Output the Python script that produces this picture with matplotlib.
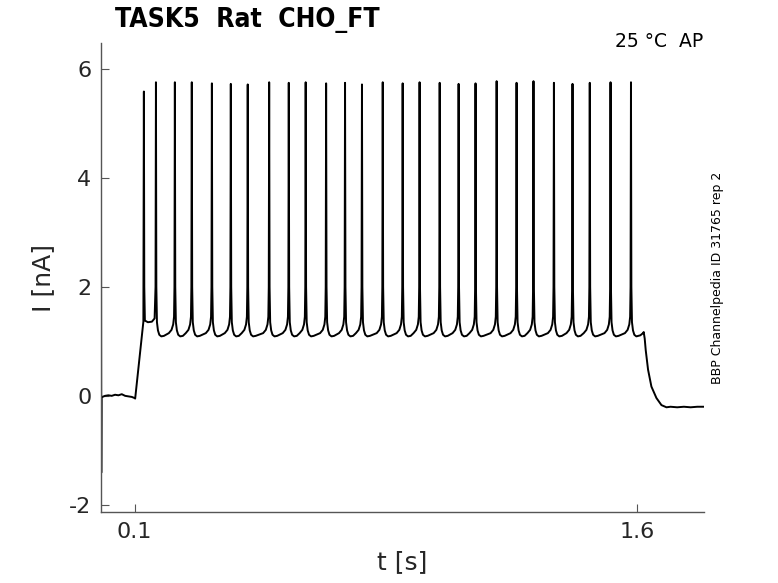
import numpy as np
import matplotlib
matplotlib.use('Agg')
import matplotlib.pyplot as plt

plt.rcParams['axes.unicode_minus'] = False

# spike times [s] and peak currents [nA]
spike_times = [0.128, 0.164, 0.2205, 0.271, 0.331, 0.3875, 0.438, 0.502, 0.5605,
               0.611, 0.672, 0.7285, 0.779, 0.841, 0.9005, 0.951, 1.011, 1.0675,
               1.118, 1.181, 1.2405, 1.291, 1.352, 1.4075, 1.459, 1.521, 1.582]
spike_peaks = [5.58, 5.75, 5.75, 5.75, 5.73, 5.72, 5.71, 5.75, 5.74,
               5.75, 5.73, 5.74, 5.71, 5.75, 5.73, 5.75, 5.74, 5.72,
               5.73, 5.77, 5.74, 5.77, 5.74, 5.72, 5.74, 5.75, 5.75]

# holding period before the step (incl. the start transient)
pre_t = [0.0, 0.0008, 0.0016, 0.004, 0.012, 0.022, 0.032, 0.042, 0.052, 0.062,
         0.072, 0.082, 0.092, 0.1, 0.102, 0.1265]
pre_i = [3.74, -1.41, -0.02, -0.02, 0.0, 0.01, 0.0, 0.02, 0.01, 0.03,
         0.0, -0.01, -0.02, -0.04, -0.05, 1.36]

# plateau between the first two spikes
plateau_t = [0.1292, 0.131, 0.14, 0.152, 0.16, 0.1628]
plateau_i = [2.0, 1.38, 1.35, 1.36, 1.42, 2.0]

# after the last spike: small bump then decay to the new baseline
post_t = [1.5832, 1.585, 1.588, 1.592, 1.598, 1.61, 1.618, 1.620, 1.623, 1.626,
          1.633, 1.643, 1.658, 1.673, 1.688, 1.70, 1.72, 1.74, 1.76, 1.78, 1.8]
post_i = [2.0, 1.35, 1.2, 1.12, 1.09, 1.11, 1.15, 1.17, 1.05, 0.84,
          0.48, 0.17, -0.04, -0.17, -0.21, -0.2, -0.21, -0.2, -0.21, -0.2, -0.2]

# within-cycle shape: offsets after a spike, and before the next one
after_dt = [0.0012, 0.003, 0.006, 0.010, 0.016, 0.024]
after_i = [2.0, 1.35, 1.2, 1.12, 1.09, 1.10]
before_dt = [0.018, 0.010, 0.005, 0.0025, 0.0012]
before_i = [1.15, 1.21, 1.31, 1.45, 2.0]

t = pre_t + [spike_times[0]] + plateau_t
cur = pre_i + [spike_peaks[0]] + plateau_i
for k in range(1, len(spike_times)):
    ts = spike_times[k]
    if k > 1:
        for dt, v in zip(before_dt, before_i):
            t.append(ts - dt)
            cur.append(v)
    t.append(ts)
    cur.append(spike_peaks[k])
    if k < len(spike_times) - 1:
        for dt, v in zip(after_dt, after_i):
            t.append(ts + dt)
            cur.append(v)
t += post_t
cur += post_i

fig = plt.figure(figsize=(7.78, 5.83), dpi=100)
ax = fig.add_axes([101/778, 1 - 512/583, 603/778, 469/583])
ax.plot(t, cur, color='black', linewidth=1.4)

ax.set_xlim(0, 1.8)
ax.set_ylim(-2.13, 6.47)
ax.set_xticks([0.1, 1.6])
ax.set_xticklabels(['0.1', '1.6'])
ax.set_yticks([-2, 0, 2, 4, 6])
ax.set_yticklabels(['-2', '0', '2', '4', '6'])
for side in ['top', 'right']:
    ax.spines[side].set_visible(False)
for side in ['left', 'bottom']:
    ax.spines[side].set_color('#555555')
    ax.spines[side].set_linewidth(1.0)
ax.tick_params(direction='in', length=6, width=0.8, color='#555555',
               labelsize=16, labelcolor='#262626', pad=7)
ax.set_xlabel('t [s]', fontsize=18, color='#262626', labelpad=6)
ax.set_ylabel('I [nA]', fontsize=18, color='#262626', labelpad=10)

fig.text(115/778, 1 - 27/583, 'TASK5  Rat  CHO_FT', fontsize=19,
         fontweight='bold', fontstretch='condensed', va='baseline', ha='left')
fig.text(703/778, 1 - 47/583, '25 °C  AP', fontsize=13.5,
         va='baseline', ha='right')
fig.text(717/778, 1 - 278/583, 'BBP Channelpedia ID 31765 rep 2', fontsize=9,
         rotation=90, va='center', ha='center')

plt.savefig('out.png', dpi=100)
